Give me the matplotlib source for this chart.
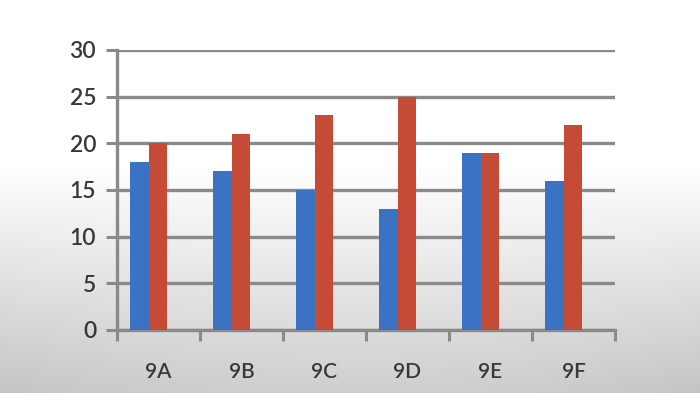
import numpy as np
import matplotlib
matplotlib.use("Agg")
import matplotlib.pyplot as plt

categories = ["9A", "9B", "9C", "9D", "9E", "9F"]
series_blue = [18, 17, 15, 13, 19, 16]
series_red = [20, 21, 23, 25, 19, 22]
yticks = [0, 5, 10, 15, 20, 25, 30]

plt.rcParams['font.family'] = ['Lato', 'DejaVu Sans']

fig = plt.figure(figsize=(7, 3.93), dpi=100)

# background gradient
bg = fig.add_axes([0, 0, 1, 1], zorder=-10)
bg.axis('off')
h = 393
rows = np.ones(h)
for i in range(h):
    if i < 165:
        rows[i] = 1.0
    else:
        rows[i] = 1.0 - 0.19 * (i - 165) / (h - 165)
grad = np.tile(rows[:, None], (1, 700))
xs = np.linspace(-1, 1, 700)
vig = 0.04 * (xs ** 2)[None, :] * np.clip((np.arange(h)[:, None] - 165) / (h - 165), 0, 1)
grad = np.clip(grad - vig, 0, 1)
bg.imshow(np.dstack([grad, grad, grad]), aspect='auto', extent=[0, 1, 0, 1])
bg.set_xlim(0, 1); bg.set_ylim(0, 1)

ax = fig.add_axes([117/700, (393-330)/393, (615-117)/700, (330-50)/393])
ax.patch.set_alpha(0)

x = np.arange(len(categories))
w = 0.225
off = -0.12
ax.bar(x + off - w/2, series_blue, width=w, color="#3b72c3", zorder=3)
ax.bar(x + off + w/2, series_red, width=w, color="#c64b36", zorder=3)

ax.set_xlim(-0.5, len(categories) - 0.5)
ax.set_ylim(0, 30)
ax.set_yticks(yticks)
ax.set_yticklabels([str(v) for v in yticks], fontsize=16.5, color="#383838", fontweight='semibold')
ax.yaxis.grid(True, color="#8a8a8a", linewidth=2.4, zorder=0)
ax.set_axisbelow(True)

ax.set_xticks(x)
ax.set_xticklabels(categories, fontsize=15, color="#383838", fontweight='semibold')
ax.set_xticks(np.arange(-0.5, len(categories), 1), minor=True)
ax.tick_params(axis='x', which='major', length=0, pad=23)
ax.tick_params(axis='x', which='minor', length=8, width=2.2, color="#8a8a8a", direction='out')
ax.tick_params(axis='y', length=8, width=2.2, color="#8a8a8a", pad=7)

for s in ['top', 'right']:
    ax.spines[s].set_visible(False)
for s in ['left', 'bottom']:
    ax.spines[s].set_color("#8a8a8a")
    ax.spines[s].set_linewidth(2.4)

fig.savefig("out.png", dpi=100)
